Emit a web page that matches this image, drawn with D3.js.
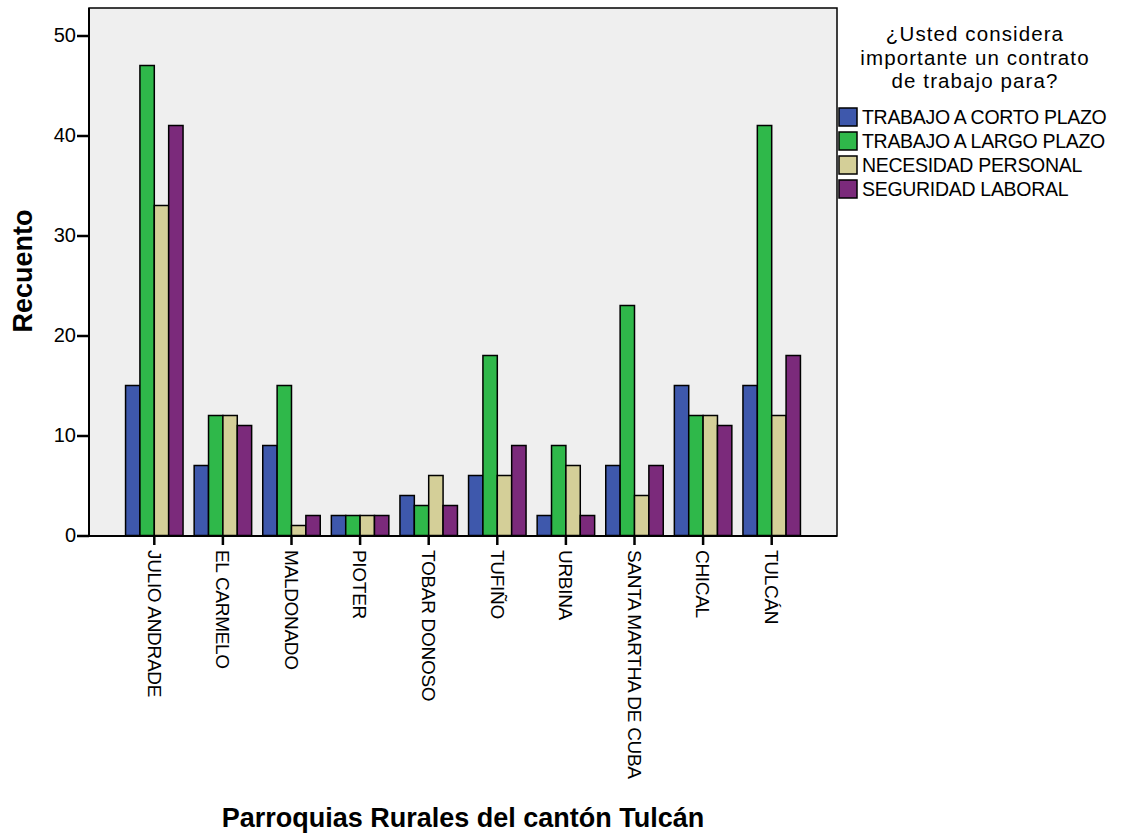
<!DOCTYPE html>
<html><head><meta charset="utf-8">
<script src="https://cdn.jsdelivr.net/npm/d3@7"></script>
<style>body{margin:0;background:#fff}svg{display:block}text{font-family:"Liberation Sans",Arial,sans-serif}</style>
</head><body><svg id="c" width="1130" height="833"></svg>
<script>
const categories = ["JULIO ANDRADE","EL CARMELO","MALDONADO","PIOTER","TOBAR DONOSO","TUFIÑO","URBINA","SANTA MARTHA DE CUBA","CHICAL","TULCÁN"];
const seriesNames = ["TRABAJO A CORTO PLAZO","TRABAJO A LARGO PLAZO","NECESIDAD PERSONAL","SEGURIDAD LABORAL"];
const corto = [15,7,9,2,4,6,2,7,15,15];
const largo = [47,12,15,2,3,18,9,23,12,41];
const necesidad = [33,12,1,2,6,6,7,4,12,12];
const seguridad = [41,11,2,2,3,9,2,7,11,18];
const yTicks = [0,10,20,30,40,50];
const colors = ["#3e58ac","#2fb84a","#d4cf98","#7b2a7b"];
const legendTitle = ["¿Usted considera","importante un contrato","de trabajo para?"];

const series = [corto, largo, necesidad, seguridad];
const svg = d3.select("#c");
const L = 89, R = 837, T = 8, B = 536;

const y = d3.scaleLinear().domain([0, 50]).range([535.5, 35.5]);
const x = d3.scaleBand().domain(categories).range([120, 806]).paddingInner(0.162).paddingOuter(0.081);
const xs = d3.scaleBand().domain(d3.range(4)).range([0, x.bandwidth()]);

svg.append("rect").attr("x", L).attr("y", T).attr("width", R - L).attr("height", B - T)
  .attr("fill", "#efefef").attr("stroke", "#000").attr("stroke-width", 1.5);

const g = svg.append("g");
categories.forEach((c, i) => {
  series.forEach((s, j) => {
    g.append("rect")
      .attr("x", x(c) + xs(j)).attr("y", y(s[i]))
      .attr("width", xs.bandwidth()).attr("height", y(0) - y(s[i]))
      .attr("fill", colors[j]).attr("stroke", "#000").attr("stroke-width", 1.5);
  });
});

// Y axis
const ya = svg.append("g").attr("transform", `translate(${L},0)`)
  .call(d3.axisLeft(y).tickValues(yTicks).tickSize(12).tickPadding(1));
ya.select(".domain").remove();
ya.selectAll("line").attr("stroke-width", 2.5);
ya.selectAll("text").attr("font-size", 20).attr("fill", "#000");

// X axis
const xa = svg.append("g").attr("transform", `translate(0,${B})`)
  .call(d3.axisBottom(x).tickSize(9).tickPadding(0));
xa.select(".domain").remove();
xa.selectAll("line").attr("stroke-width", 2.5);
xa.selectAll("text").attr("font-size", 19).attr("fill", "#000")
  .attr("text-anchor", "start").attr("transform", "rotate(90)")
  .attr("x", 14).attr("y", 0).attr("dy", "0.35em").attr("letter-spacing", -0.3);

// axis lines
svg.append("line").attr("x1", L).attr("x2", L).attr("y1", T).attr("y2", B + 1).attr("stroke", "#000").attr("stroke-width", 2);
svg.append("line").attr("x1", L).attr("x2", R).attr("y1", B).attr("y2", B).attr("stroke", "#000").attr("stroke-width", 2);

// Titles
svg.append("text").attr("transform", "translate(32,271) rotate(-90)").attr("text-anchor", "middle")
  .attr("font-size", 27).attr("font-weight", "bold").text("Recuento");
svg.append("text").attr("x", 463).attr("y", 827).attr("text-anchor", "middle")
  .attr("font-size", 27).attr("font-weight", "bold").text("Parroquias Rurales del cantón Tulcán");

// Legend
legendTitle.forEach((t, i) => {
  svg.append("text").attr("x", 975).attr("y", 41 + i * 23.5).attr("text-anchor", "middle")
    .attr("font-size", 20.5).attr("letter-spacing", 1.1).text(t);
});
seriesNames.forEach((n, i) => {
  const yy = 108 + i * 24;
  svg.append("rect").attr("x", 839).attr("y", yy).attr("width", 18).attr("height", 18)
    .attr("fill", colors[i]).attr("stroke", "#000").attr("stroke-width", 1.5);
  svg.append("text").attr("x", 862).attr("y", yy + 16).attr("font-size", 19.5).attr("letter-spacing", -0.3).text(n);
});
</script></body></html>
